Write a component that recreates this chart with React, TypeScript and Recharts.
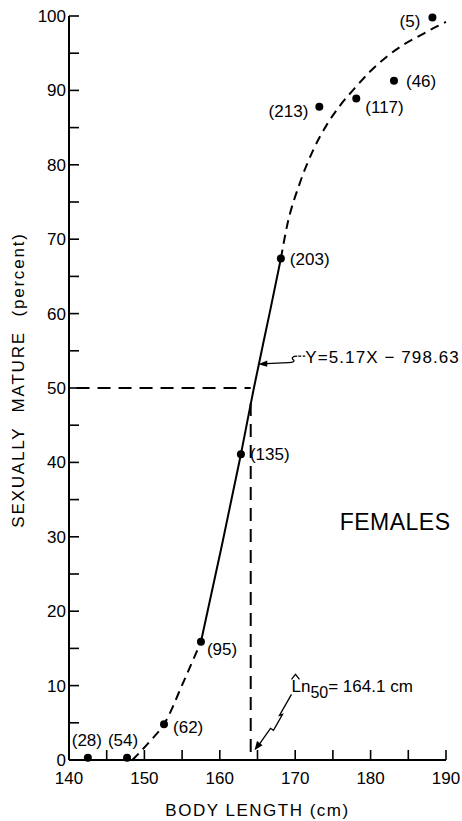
import React from 'react';
import {
  ComposedChart,
  Line,
  Scatter,
  XAxis,
  YAxis,
  ReferenceLine,
  ReferenceDot,
} from 'recharts';

const FONT = '"Liberation Sans", Arial, Helvetica, sans-serif';

// Observed points: body length (cm), percent sexually mature, sample size
const bodyLength = [142.5, 147.7, 152.6, 157.5, 162.8, 168.1, 173.2, 178.1, 183.1, 188.2];
const percentMature = [0.3, 0.3, 4.8, 15.9, 41.1, 67.4, 87.8, 88.9, 91.3, 99.8];
const sampleSize = [28, 54, 62, 95, 135, 203, 213, 117, 46, 5];

// Fitted maturity curve
const lowerDashX = [148.4, 150.9, 152.6, 155.1, 157.5];
const lowerDashY = [0, 2.7, 4.8, 10.3, 15.9];
const solidX = [157.5, 160.2, 162.8, 164.5, 166.7, 168.1];
const solidY = [15.9, 28.5, 41.1, 49.9, 60.5, 67.4];
const upperDashX = [168.1, 168.9, 170.6, 172.4, 174.2, 175.9, 177.9, 179.9, 182.1, 184.3, 186.6, 188.8, 190];
const upperDashY = [67.4, 71.7, 77.5, 82.0, 85.4, 87.9, 90.3, 92.5, 94.5, 96.1, 97.4, 98.6, 99.2];

const xTicks = [140, 145, 150, 155, 160, 165, 170, 175, 180, 185, 190];
const yTicks = [0, 5, 10, 15, 20, 25, 30, 35, 40, 45, 50, 55, 60, 65, 70, 75, 80, 85, 90, 95, 100];

const LN50 = 164.1;
const equationText = 'Y=5.17X \u2212 798.63';

const points = bodyLength.map((x, i) => ({ x, y: percentMature[i], n: sampleSize[i] }));
const toSeries = (xs: number[], ys: number[]) => xs.map((x, i) => ({ x, y: ys[i] }));
const lowerDash = toSeries(lowerDashX, lowerDashY);
const solidFit = toSeries(solidX, solidY);
const upperDash = toSeries(upperDashX, upperDashY);

// label layout (pixel offsets relative to each dot)
const LABEL_LAYOUT: { anchor: 'start' | 'middle' | 'end'; dx: number; dy: number }[] = [
  { anchor: 'middle', dx: -1, dy: -12 },
  { anchor: 'middle', dx: -4, dy: -12 },
  { anchor: 'start', dx: 9, dy: 9 },
  { anchor: 'start', dx: 6, dy: 13 },
  { anchor: 'start', dx: 9, dy: 6 },
  { anchor: 'start', dx: 9, dy: 6 },
  { anchor: 'end', dx: -11, dy: 10 },
  { anchor: 'start', dx: 9, dy: 14 },
  { anchor: 'start', dx: 12, dy: 6 },
  { anchor: 'end', dx: -12, dy: 10 },
];

const textStyle = { fontFamily: FONT, fill: '#000' } as const;

const XTick = (props: any) => {
  const { x, y, payload } = props;
  const v = payload.value;
  return (
    <g>
      <line x1={x} x2={x} y1={y} y2={y - 10} stroke="#000" strokeWidth={1.6} />
      {v % 10 === 0 && (
        <text x={x} y={y + 24} textAnchor="middle" fontSize={17} style={textStyle}>
          {v}
        </text>
      )}
    </g>
  );
};

const YTick = (props: any) => {
  const { x, y, payload } = props;
  const v = payload.value;
  return (
    <g>
      <line x1={x} x2={x + 10} y1={y} y2={y} stroke="#000" strokeWidth={1.6} />
      {v % 10 === 0 && (
        <text x={x - 3} y={y + 6} textAnchor="end" fontSize={17} style={textStyle}>
          {v}
        </text>
      )}
    </g>
  );
};

const PointShape = (props: any) => {
  const { cx, cy, payload } = props;
  const i = sampleSize.indexOf(payload.n);
  const p = LABEL_LAYOUT[i] || { anchor: 'start', dx: 9, dy: 6 };
  return (
    <g>
      <circle cx={cx} cy={cy} r={4} fill="#000" />
      <text x={cx + p.dx} y={cy + p.dy} textAnchor={p.anchor} fontSize={17} style={textStyle}>
        ({payload.n})
      </text>
    </g>
  );
};

const EquationNote = (props: any) => {
  const { cx, cy } = props;
  return (
    <g transform={`translate(${cx},${cy})`}>
      <path d="M0,0 L9,-3.6 L9,2.6 Z" fill="#000" />
      <path
        d="M8,-0.5 L30,-1.5 C35,-1.5 37,-3 35,-4.5 C33,-6 34,-8 39,-8 M40,-8 L43,-8 M44.5,-8 L47,-8"
        fill="none"
        stroke="#000"
        strokeWidth={1.3}
      />
      <text x={47} y={-1} fontSize={17} letterSpacing={1.1} style={textStyle}>
        {equationText}
      </text>
    </g>
  );
};

const Ln50Note = (props: any) => {
  const { cx, cy } = props;
  return (
    <g transform={`translate(${cx},${cy})`}>
      <path d="M0,0 L8.1,-5.2 L2.5,-9.4 Z" fill="#000" />
      <path
        d="M37,-56 L25,-35 L28,-36 L19,-20 L16,-22 L4,-5"
        fill="none"
        stroke="#000"
        strokeWidth={1.3}
      />
      <path d="M37,-71 L41,-76 L45,-71" fill="none" stroke="#000" strokeWidth={1.3} />
      <text x={37} y={-58} fontSize={17} style={textStyle}>
        Ln
        <tspan dy={6} fontSize={16}>50</tspan>
        <tspan dy={-6}>= {LN50} cm</tspan>
      </text>
    </g>
  );
};

const FemalesNote = (props: any) => {
  const { cx, cy } = props;
  return (
    <text x={cx} y={cy} fontSize={23} letterSpacing={0.5} style={textStyle}>
      FEMALES
    </text>
  );
};

const YLabel = (props: any) => {
  const vb = props.viewBox || { x: 0, y: 16, width: 69, height: 744 };
  const cx = vb.x + 24;
  const cy = vb.y + vb.height / 2 - 8;
  return (
    <text
      x={cx}
      y={cy}
      transform={`rotate(-90, ${cx}, ${cy})`}
      textAnchor="middle"
      fontSize={17}
      letterSpacing={1.8}
      wordSpacing={8}
      style={textStyle}
    >
      SEXUALLY MATURE (percent)
    </text>
  );
};

const XLabel = (props: any) => {
  const vb = props.viewBox || { x: 69, y: 760, width: 377, height: 61 };
  return (
    <text
      x={vb.x + vb.width / 2}
      y={vb.y + 56}
      textAnchor="middle"
      fontSize={17}
      letterSpacing={1.5}
      style={textStyle}
    >
      BODY LENGTH (cm)
    </text>
  );
};

export default function App() {
  return (
    <div style={{ position: 'absolute', left: 0, top: 0, width: 462, height: 821, background: '#fff' }}>
      <ComposedChart
        width={462}
        height={821}
        margin={{ top: 16, right: 16, bottom: 0, left: 0 }}
      >
        <XAxis
          type="number"
          dataKey="x"
          domain={[140, 190]}
          ticks={xTicks}
          interval={0}
          height={61}
          tickSize={0}
          tickMargin={0}
          tickLine={false}
          axisLine={{ stroke: '#000', strokeWidth: 2 }}
          tick={<XTick />}
          label={<XLabel />}
        />
        <YAxis
          type="number"
          dataKey="y"
          domain={[0, 100]}
          ticks={yTicks}
          interval={0}
          width={69}
          tickSize={0}
          tickMargin={0}
          tickLine={false}
          axisLine={{ stroke: '#000', strokeWidth: 2 }}
          tick={<YTick />}
          label={<YLabel />}
        />
        <ReferenceLine
          segment={[{ x: 141, y: 50 }, { x: LN50, y: 50 }]}
          stroke="#000"
          strokeWidth={2}
          strokeDasharray="13 8"
        />
        <ReferenceLine
          segment={[{ x: LN50, y: 48 }, { x: LN50, y: 0 }]}
          stroke="#000"
          strokeWidth={2}
          strokeDasharray="13 8"
        />
        <Line
          data={lowerDash}
          dataKey="y"
          type="monotone"
          stroke="#000"
          strokeWidth={2}
          strokeDasharray="9 6"
          dot={false}
          activeDot={false}
          isAnimationActive={false}
        />
        <Line
          data={solidFit}
          dataKey="y"
          type="monotone"
          stroke="#000"
          strokeWidth={2}
          dot={false}
          activeDot={false}
          isAnimationActive={false}
        />
        <Line
          data={upperDash}
          dataKey="y"
          type="monotone"
          stroke="#000"
          strokeWidth={2}
          strokeDasharray="9 6"
          dot={false}
          activeDot={false}
          isAnimationActive={false}
        />
        <Scatter data={points} dataKey="y" shape={<PointShape />} isAnimationActive={false} />
        <ReferenceDot x={165.1} y={53.2} r={0} shape={(p: any) => <EquationNote {...p} />} />
        <ReferenceDot x={164.6} y={1.3} r={0} shape={(p: any) => <Ln50Note {...p} />} />
        <ReferenceDot x={175.9} y={30.9} r={0} shape={(p: any) => <FemalesNote {...p} />} />
      </ComposedChart>
    </div>
  );
}
